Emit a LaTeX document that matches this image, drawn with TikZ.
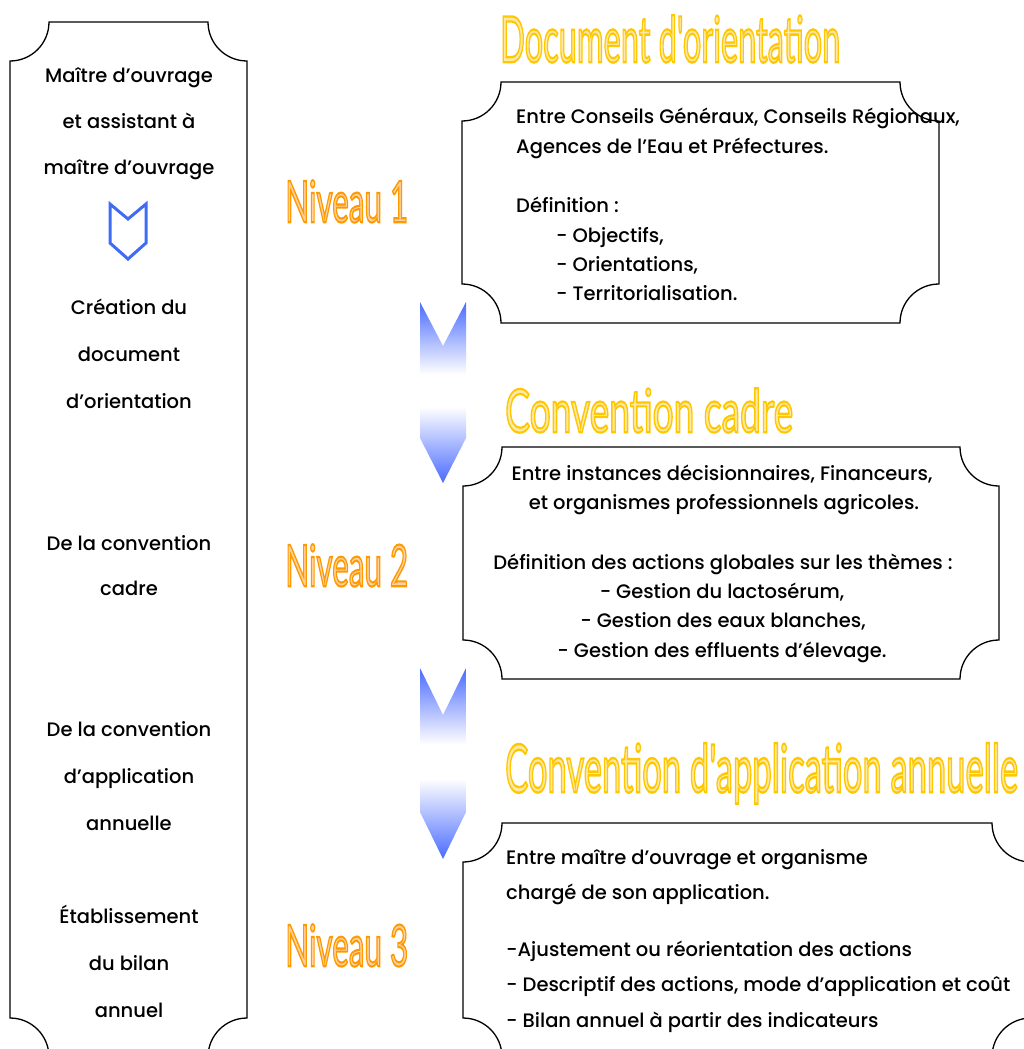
\documentclass[tikz,border=0pt]{standalone}
\usepackage{fontspec}
\usepackage{graphicx}
\setmainfont{Poppins}[UprightFont={* Medium}]
\newfontfamily\artfont{Lato}

\definecolor{chevblue}{HTML}{3F6BF5}
\definecolor{arrowblue}{HTML}{4A6BFF}
\definecolor{titlefill}{HTML}{FFE9A8}
\definecolor{niveaufill}{HTML}{FFD2A0}

\newcommand\bodysize{\fontsize{19.5}{23}\selectfont}
\newcommand\artsize{\fontsize{60}{60}\selectfont}
% outlined "word art" letters: fill colour, stroke colour (rgb), text
\newcommand\wordart[3]{{\artsize\color{#1}\special{pdf:literal direct 2 Tr 2.2 w #2 RG}#3\special{pdf:literal direct 0 Tr}}}
% frame with hollow (concave) corners
\newcommand\ticketbox[4]{%
  \draw[boxline] (#1+39,#2) -- (#3-39,#2) arc[start angle=180,end angle=90,radius=39]
    -- (#3,#4-39) arc[start angle=270,end angle=180,radius=39]
    -- (#1+39,#4) arc[start angle=0,end angle=-90,radius=39]
    -- (#1,#2+39) arc[start angle=90,end angle=0,radius=39] -- cycle;}
\pgfdeclareverticalshading{arrowshade}{100bp}{color(0bp)=(arrowblue); color(25bp)=(arrowblue);
  color(46bp)=(white); color(55bp)=(white); color(75bp)=(arrowblue); color(100bp)=(arrowblue)}

\begin{document}
\begin{tikzpicture}[x=1pt,y=-1pt,
    boxline/.style={draw=black,line width=1.3pt},
    coltext/.style={anchor=mid,font=\bodysize,inner sep=0},
    boxtext/.style={anchor=mid west,font=\bodysize,inner sep=0},
    arttext/.style={anchor=north west,font=\artfont,inner sep=0},
    downarrow/.style={shading=arrowshade},
    chevron/.style={draw=chevblue,line width=3pt,line join=miter}]
  \useasboundingbox (0,0) rectangle (1023,1049);

  % frames
  \ticketbox{10}{22}{247}{1057}
  \ticketbox{462}{82}{939}{323}
  \ticketbox{463}{447}{999}{679}
  \ticketbox{463}{823}{1031}{1057}

  % left column
  \node[coltext] (c1) at (129,80) {Maître d’ouvrage};
  \node[coltext] (c2) at (129,126) {et assistant à};
  \node[coltext] (c3) at (129,172) {maître d’ouvrage};
  \draw[chevron] (110,204) -- (128,219) -- (146,204) -- (146,243) -- (128,259) -- (110,243) -- cycle;
  \node[coltext] (c4) at (129,312) {Création du};
  \node[coltext] (c5) at (129,359) {document};
  \node[coltext] (c6) at (129,406) {d’orientation};
  \node[coltext] (c7) at (129,548) {De la convention};
  \node[coltext] (c8) at (129,593) {cadre};
  \node[coltext] (c9) at (129,734) {De la convention};
  \node[coltext] (c10) at (129,781) {d’application};
  \node[coltext] (c11) at (129,828) {annuelle};
  \node[coltext] (c12) at (129,921) {Établissement};
  \node[coltext] (c13) at (129,968) {du bilan};
  \node[coltext] (c14) at (129,1015) {annuel};

  % levels
  \node[arttext] (n1) at (285,180) {\resizebox{123pt}{42pt}{\wordart{niveaufill}{1 0.6 0}{Niveau 1}}};
  \node[arttext] (n2) at (285,544) {\resizebox{123pt}{42pt}{\wordart{niveaufill}{1 0.6 0}{Niveau 2}}};
  \node[arttext] (n3) at (285,924) {\resizebox{123pt}{42pt}{\wordart{niveaufill}{1 0.6 0}{Niveau 3}}};

  % titles
  \node[arttext] (t1) at (500,15) {\resizebox{340pt}{47pt}{\wordart{titlefill}{1 0.78 0}{Document d'orientation}}};
  \node[arttext] (t2) at (505,388) {\resizebox{288pt}{44pt}{\wordart{titlefill}{1 0.78 0}{Convention cadre}}};
  \node[arttext] (t3) at (505,743) {\resizebox{513pt}{49pt}{\wordart{titlefill}{1 0.78 0}{Convention d'application annuelle}}};

  % arrows between levels
  \shade[downarrow] (420,302) -- (443,346) -- (466,302) -- (466,438) -- (443,483) -- (420,438) -- cycle;
  \shade[downarrow] (420,668) -- (443,715) -- (466,668) -- (466,812) -- (443,859) -- (420,812) -- cycle;

  % level 1 text
  \node[boxtext] (a1) at (516,121) {Entre Conseils Généraux, Conseils Régionaux,};
  \node[boxtext] (a2) at (516,151) {Agences de l’Eau et Préfectures.};
  \node[boxtext] (a3) at (516,210) {Définition :};
  \node[boxtext] (a4) at (556,240) {- Objectifs,};
  \node[boxtext] (a5) at (556,269) {- Orientations,};
  \node[boxtext] (a6) at (556,298) {- Territorialisation.};

  % level 2 text
  \node[coltext] (b1) at (722,478) {Entre instances décisionnaires, Financeurs,};
  \node[coltext] (b2) at (724,507) {et organismes professionnels agricoles.};
  \node[coltext] (b3) at (723,567) {Définition des actions globales sur les thèmes :};
  \node[coltext] (b4) at (722,596) {- Gestion du lactosérum,};
  \node[coltext] (b5) at (723,625) {- Gestion des eaux blanches,};
  \node[coltext] (b6) at (722,655) {- Gestion des effluents d’élevage.};

  % level 3 text
  \node[boxtext] (d1) at (506,862) {Entre maître d’ouvrage et organisme};
  \node[boxtext] (d2) at (506,897) {chargé de son application.};
  \node[boxtext] (d3) at (506,954) {-Ajustement ou réorientation des actions};
  \node[boxtext] (d4) at (506,989) {- Descriptif des actions, mode d’application et coût};
  \node[boxtext] (d5) at (506,1025) {- Bilan annuel à partir des indicateurs};
\end{tikzpicture}
\end{document}
